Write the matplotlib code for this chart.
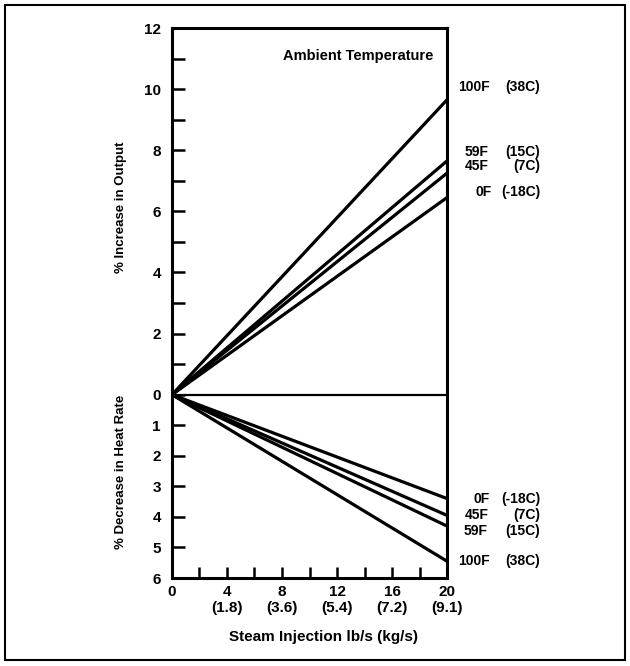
import matplotlib
matplotlib.use("Agg")
import matplotlib.pyplot as plt
from matplotlib.patches import Rectangle

plt.rcParams['font.family'] = ['Liberation Sans', 'DejaVu Sans']
plt.rcParams['font.weight'] = 'bold'

# Datos
steam = [0, 20]
temps_f = ['100F', '59F', '45F', '0F']
temps_c = ['(38C)', '(15C)', '(7C)', '(-18C)']
output_end = [9.65, 7.65, 7.25, 6.45]      # % aumento de potencia a 20 lb/s
heatrate_end = [5.45, 4.3, 3.95, 3.4]      # % disminucion heat rate a 20 lb/s

xticks_lb = [0, 4, 8, 12, 16, 20]
xticks_kg = ['', '(1.8)', '(3.6)', '(5.4)', '(7.2)', '(9.1)']

fig = plt.figure(figsize=(6.3, 6.66), dpi=100)
ax = fig.add_axes([172 / 630, 1 - 578 / 666, 275 / 630, 550 / 666])

# lineas superiores (output) y inferiores (heat rate, eje invertido)
for v in output_end:
    ax.plot(steam, [0, v], color='black', lw=2.3, solid_capstyle='butt')
for v in heatrate_end:
    ax.plot(steam, [0, -v], color='black', lw=2.3, solid_capstyle='butt')
ax.axhline(0, color='black', lw=1.6)

ax.set_xlim(0, 20)
ax.set_ylim(-6, 12)

yt = list(range(-6, 13))
ylab = []
for v in yt:
    if v < 0:
        ylab.append(str(-v))
    elif v % 2 == 0:
        ylab.append(str(v))
    else:
        ylab.append('')
ax.set_yticks(yt)
ax.set_yticklabels(ylab, fontsize=11, fontweight='bold')
xlab = []
for t in range(0, 21, 2):
    if t in xticks_lb:
        kg = xticks_kg[xticks_lb.index(t)]
        xlab.append(str(t) + ('\n' + kg if kg else ''))
    else:
        xlab.append('')
ax.set_xticks(range(0, 21, 2))
ax.set_xticklabels(xlab, fontsize=11, fontweight='bold', linespacing=1.15, va='top')
ax.tick_params(axis='y', direction='in', length=9, width=1.8, pad=8)
ax.tick_params(axis='x', direction='in', length=8, width=1.8, pad=5)
for s in ax.spines.values():
    s.set_linewidth(2.2)

ax.text(18.98, 11.08, 'Ambient Temperature', ha='right', va='center', fontsize=10.5, fontweight='bold')

def px2x(px):
    return (px - 172) / 275 * 20

def py2y(py):
    return (396 - py) / 30.6

# etiquetas de temperatura a la derecha
up_y = [88, 153, 167, 193]
up_xf = [458, 465, 465, 475]
low_y = [563, 533, 517, 500]
low_xf = [458, 464, 465, 473]
for i in range(4):
    for yy, xf in ((up_y[i], up_xf[i]), (low_y[i], low_xf[i])):
        ax.text(px2x(xf), py2y(yy), temps_f[i], fontsize=10, fontweight='bold',
                va='center', ha='left', clip_on=False)
        ax.text(px2x(540), py2y(yy), temps_c[i], fontsize=10, fontweight='bold',
                va='center', ha='right', clip_on=False)

fig.text(121 / 630, 1 - 207 / 666, '% Increase in Output', rotation=90, ha='center', va='center',
         fontsize=9.5, fontweight='bold')
fig.text(121 / 630, 1 - 472 / 666, '% Decrease in Heat Rate', rotation=90, ha='center', va='center',
         fontsize=9.5, fontweight='bold')
fig.text(324 / 630, 1 - 637 / 666, 'Steam Injection lb/s (kg/s)', ha='center', va='center',
         fontsize=11, fontweight='bold')

# marco exterior
fig.patches.append(Rectangle((5 / 630, 6 / 666), 620 / 630, 655 / 666, transform=fig.transFigure,
                             fill=False, edgecolor='black', lw=1.5))

fig.savefig('out.png', dpi=100)
